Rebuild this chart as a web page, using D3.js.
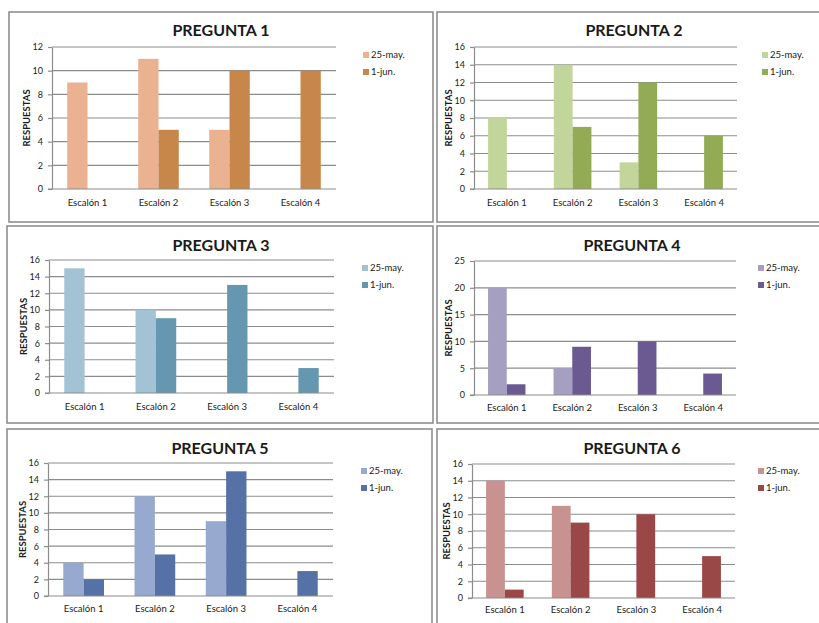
<!DOCTYPE html>
<html>
<head>
<meta charset="utf-8">
<script src="https://cdn.jsdelivr.net/npm/d3@7/dist/d3.min.js"></script>
<style>
  html, body { margin: 0; padding: 0; background: #fff; }
  svg { display: block; }
  text { font-family: Lato, "Liberation Sans", sans-serif; fill: #1a1a1a; }
</style>
</head>
<body>
<svg id="chart" width="819" height="623"></svg>
<script>
// Survey answers per step ("Escalón") for six questions, two survey dates.
const categories = ["Escalón 1", "Escalón 2", "Escalón 3", "Escalón 4"];
const seriesNames = ["25-may.", "1-jun."];
const titles = ["PREGUNTA 1", "PREGUNTA 2", "PREGUNTA 3", "PREGUNTA 4", "PREGUNTA 5", "PREGUNTA 6"];

const q1May = [9, 11, 5, 0];
const q1Jun = [0, 5, 10, 10];
const q2May = [8, 14, 3, 0];
const q2Jun = [0, 7, 12, 6];
const q3May = [15, 10, 0, 0];
const q3Jun = [0, 9, 13, 3];
const q4May = [20, 5, 0, 0];
const q4Jun = [2, 9, 10, 4];
const q5May = [4, 12, 9, 0];
const q5Jun = [2, 5, 15, 3];
const q6May = [14, 11, 0, 0];
const q6Jun = [1, 9, 10, 5];

const yMax = [12, 16, 16, 25, 16, 16];
const yStep = [2, 2, 2, 5, 2, 2];
const yTitle = "RESPUESTAS";

// light / dark fill per question
const lightColors = ["#EAB290", "#C2D59A", "#A3C3D5", "#A59FC1", "#98A9CF", "#C79290"];
const darkColors  = ["#C8874A", "#94AB56", "#6598B0", "#6A5A91", "#5571A5", "#994747"];

const seriesValues = [
  [q1May, q1Jun], [q2May, q2Jun], [q3May, q3Jun],
  [q4May, q4Jun], [q5May, q5Jun], [q6May, q6Jun]
];

// frame box and plot area of each small chart
const frames = [
  { box: [9, 12, 433, 222],  plot: [52, 47, 336, 189],  titleX: 221, titleY: 36,  legX: 363, legY: 55,  catY: 206 },
  { box: [437, 12, 832, 222], plot: [474, 47, 737, 189], titleX: 634, titleY: 36,  legX: 762, legY: 55,  catY: 206 },
  { box: [7, 226, 433, 423],  plot: [49, 260, 334, 393], titleX: 221, titleY: 251, legX: 362, legY: 268, catY: 410 },
  { box: [437, 226, 832, 423], plot: [474, 261, 736, 395], titleX: 632, titleY: 251, legX: 758, legY: 268, catY: 411 },
  { box: [7, 429, 432, 640],  plot: [48, 463, 333, 596], titleX: 220, titleY: 454, legX: 361, legY: 471, catY: 612 },
  { box: [437, 429, 832, 640], plot: [472, 464, 735, 598], titleX: 632, titleY: 454, legX: 758, legY: 471, catY: 613 }
];

const svg = d3.select("#chart");

frames.forEach((f, i) => {
  const g = svg.append("g");
  const [bx0, by0, bx1, by1] = f.box;
  const [px0, py0, px1, py1] = f.plot;

  g.append("rect")
    .attr("x", bx0).attr("y", by0)
    .attr("width", bx1 - bx0).attr("height", by1 - by0)
    .attr("fill", "#fff")
    .attr("stroke", "#8f8f8f")
    .attr("stroke-width", 1.6);

  const x = d3.scaleBand().domain(categories).range([px0, px1]).padding(0);
  const w = x.bandwidth();
  const gap = w * 0.75 / 3.5;
  const xs = d3.scaleBand().domain(seriesNames).range([gap, w - gap]).padding(0);
  const y = d3.scaleLinear().domain([0, yMax[i]]).range([py1, py0]);
  const ticks = d3.range(0, yMax[i] + yStep[i] / 2, yStep[i]);

  // horizontal gridlines
  g.append("g")
    .selectAll("line")
    .data(ticks.filter(t => t > 0))
    .join("line")
    .attr("x1", px0).attr("x2", px1)
    .attr("y1", d => y(d)).attr("y2", d => y(d))
    .attr("stroke", "#8c8c8c")
    .attr("stroke-width", 1.2);

  // bars
  const colors = [lightColors[i], darkColors[i]];
  seriesNames.forEach((s, si) => {
    const vals = seriesValues[i][si];
    g.append("g")
      .selectAll("rect")
      .data(categories.map((c, ci) => ({ c, v: vals[ci] })).filter(d => d.v > 0))
      .join("rect")
      .attr("x", d => x(d.c) + xs(s))
      .attr("width", xs.bandwidth())
      .attr("y", d => y(d.v))
      .attr("height", d => y(0) - y(d.v))
      .attr("fill", colors[si]);
  });

  // y axis
  const yAxis = d3.axisLeft(y).tickValues(ticks).tickSize(4).tickSizeOuter(0).tickPadding(5);
  const ya = g.append("g").attr("transform", `translate(${px0},0)`).call(yAxis);
  ya.select(".domain").attr("stroke", "#8c8c8c").attr("stroke-width", 1.2);
  ya.selectAll(".tick line").attr("stroke", "#8c8c8c").attr("stroke-width", 1.2);
  ya.selectAll(".tick text").style("font-size", "9px").style("font-family", "Lato, sans-serif").attr("fill", "#1a1a1a");

  // x axis baseline
  g.append("line")
    .attr("x1", px0 - 4).attr("x2", px1)
    .attr("y1", y(0)).attr("y2", y(0))
    .attr("stroke", "#8c8c8c").attr("stroke-width", 1.2);

  // category labels
  g.append("g")
    .selectAll("text")
    .data(categories)
    .join("text")
    .attr("x", d => x(d) + w / 2)
    .attr("y", f.catY)
    .attr("text-anchor", "middle")
    .style("font-size", "9.5px")
    .text(d => d);

  // title
  g.append("text")
    .attr("x", f.titleX).attr("y", f.titleY)
    .attr("text-anchor", "middle")
    .style("font-size", "16px").style("font-weight", "bold")
    .attr("fill", "#000")
    .text(titles[i]);

  // axis title
  g.append("text")
    .attr("transform", `translate(${px0 - 22},${(py0 + py1) / 2}) rotate(-90)`)
    .attr("text-anchor", "middle")
    .style("font-size", "9.5px").style("font-weight", "bold")
    .text(yTitle);

  // legend
  seriesNames.forEach((s, si) => {
    const ly = f.legY + si * 17;
    g.append("rect")
      .attr("x", f.legX).attr("y", ly - 3)
      .attr("width", 6).attr("height", 6)
      .attr("fill", colors[si]);
    g.append("text")
      .attr("x", f.legX + 8).attr("y", ly + 3)
      .style("font-size", "9.5px")
      .text(s);
  });
});
</script>
</body>
</html>
